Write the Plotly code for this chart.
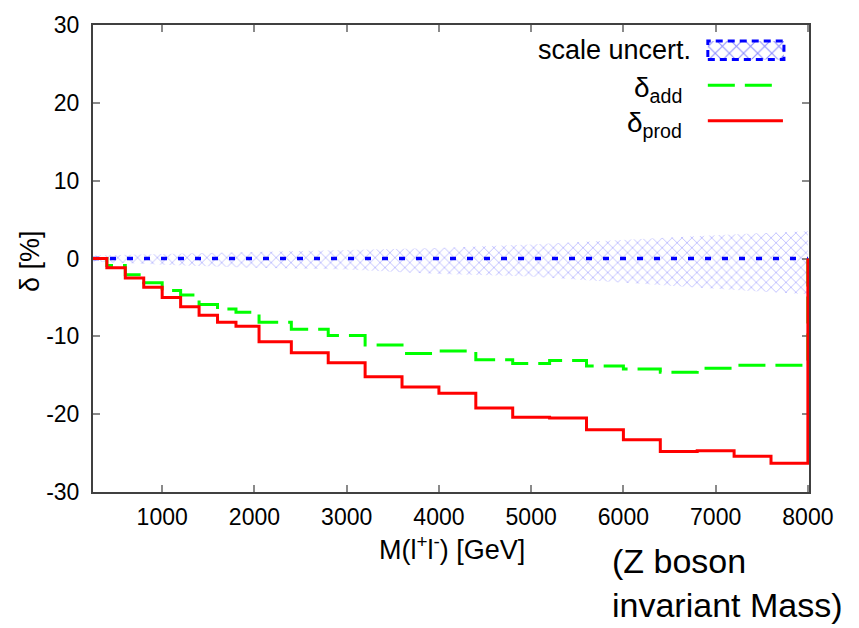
import plotly.graph_objects as go

# ---------------- data ----------------
bin_edges = [250, 400, 600, 800, 1000, 1200, 1400, 1600, 1800, 2050, 2400, 2800,
             3200, 3600, 4000, 4400, 4800, 5200, 5600, 6000, 6400, 6800, 7200, 7600, 8000]
delta_prod = [0.0, -1.2, -2.5, -3.7, -5.0, -6.2, -7.3, -8.2, -8.7, -10.7, -12.1, -13.4,
              -15.2, -16.5, -17.3, -19.2, -20.4, -20.5, -22.0, -23.3, -24.8, -24.7, -25.4, -26.3]
delta_add = [0.0, -0.9, -2.1, -3.1, -4.1, -4.7, -5.9, -6.5, -6.9, -8.2, -9.1, -9.9,
             -11.1, -12.2, -11.9, -13.0, -13.5, -13.1, -13.8, -14.2, -14.6, -14.1, -13.7, -13.7]

band_mass = [250, 1000, 2000, 3000, 4000, 5000, 6000, 7000, 8000]
band_upper = [0.4, 0.6, 0.85, 1.05, 1.35, 1.8, 2.4, 3.0, 3.5]
band_lower = [-0.4, -0.8, -1.2, -1.4, -2.0, -2.3, -3.1, -3.9, -4.6]

central_mass = [250, 8000]
central_val = [0, 0]

x_ticks = [1000, 2000, 3000, 4000, 5000, 6000, 7000, 8000]
y_ticks = [-30, -20, -10, 0, 10, 20, 30]
y_tick_text = ["-30", "-20", "-10", "0", "10", "20", "30"]

FONT = "Liberation Sans, Arial, sans-serif"


def histeps(edges, vals):
    xs = [edges[0]] + list(edges[:-1]) + [edges[-1], edges[-1]]
    ys = [0.0] + list(vals) + [vals[-1], 0.0]
    return xs, ys


fig = go.Figure()

# scale uncertainty band (hatched)
fig.add_trace(go.Scatter(
    x=band_mass + band_mass[::-1],
    y=band_upper + band_lower[::-1],
    fill="toself", mode="lines", line=dict(width=0, color="rgba(0,0,255,0)"),
    fillcolor="rgba(255,255,255,0)",
    fillpattern=dict(shape="x", fgcolor="rgba(40,40,255,0.75)", bgcolor="rgba(255,255,255,0)",
                     size=7, solidity=0.2),
    showlegend=False, hoverinfo="skip"))

# central line
fig.add_trace(go.Scatter(x=central_mass, y=central_val, mode="lines",
                         line=dict(color="#0000ff", width=3.5, dash="6px,11px"),
                         showlegend=False))

gx, gy = histeps(bin_edges, delta_add)
fig.add_trace(go.Scatter(x=gx, y=gy, mode="lines", line_shape="hv",
                         line=dict(color="#00ff00", width=3, dash="27px,10px"),
                         showlegend=False))

rx, ry = histeps(bin_edges, delta_prod)
fig.add_trace(go.Scatter(x=rx, y=ry, mode="lines", line_shape="hv",
                         line=dict(color="#ff0000", width=3),
                         showlegend=False))

# legend sample for the hatched band (on an overlay axis in plot-fraction units)
fig.add_trace(go.Scatter(
    x=[0.8587, 0.965, 0.965, 0.8587, 0.8587],
    y=[0.926, 0.926, 0.966, 0.966, 0.926],
    xaxis="x2", yaxis="y2",
    fill="toself", mode="lines",
    line=dict(color="#0000ff", width=3, dash="7px,5px"),
    fillcolor="rgba(255,255,255,0)",
    fillpattern=dict(shape="x", fgcolor="rgba(0,0,255,0.9)", bgcolor="rgba(255,255,255,0)",
                     size=10, solidity=0.2),
    showlegend=False, hoverinfo="skip"))

axis_common = dict(showline=True, linecolor="#404040", linewidth=2, mirror="ticks",
                   ticks="inside", ticklen=7, tickcolor="#8a8a8a", tickwidth=1.5,
                   showgrid=False, zeroline=False, layer="below traces",
                   tickfont=dict(family=FONT, size=23, color="black"))

fig.update_layout(
    width=859, height=628,
    margin=dict(l=93, r=50, t=19, b=136),
    paper_bgcolor="white", plot_bgcolor="white",
    font=dict(family=FONT, color="black"),
    showlegend=False,
    xaxis=dict(range=[250, 8012], tickvals=x_ticks, ticklabelstandoff=3, **axis_common),
    yaxis=dict(range=[-30, 30], tickvals=y_ticks, ticktext=y_tick_text,
               ticklabelstandoff=7, **axis_common),
    xaxis2=dict(overlaying="x", range=[0, 1], visible=False),
    yaxis2=dict(overlaying="y", range=[0, 1], visible=False),
)

# legend lines & texts
fig.add_shape(type="line", xref="paper", yref="paper", x0=0.8587, x1=0.9566, y0=0.871, y1=0.871,
              line=dict(color="#00ff00", width=3, dash="27px,10px"))
fig.add_shape(type="line", xref="paper", yref="paper", x0=0.8587, x1=0.9636, y0=0.795, y1=0.795,
              line=dict(color="#ff0000", width=3))

fig.add_annotation(text="scale uncert.", xref="paper", yref="paper", x=0.8378, y=0.947,
                   xanchor="right", yanchor="middle", showarrow=False,
                   font=dict(family=FONT, size=27, color="black"))
fig.add_annotation(text="δ<sub>add</sub>", xref="paper", yref="paper", x=0.8252, y=0.862,
                   xanchor="right", yanchor="middle", showarrow=False,
                   font=dict(family=FONT, size=28, color="black"))
fig.add_annotation(text="δ<sub>prod</sub>", xref="paper", yref="paper", x=0.8252, y=0.787,
                   xanchor="right", yanchor="middle", showarrow=False,
                   font=dict(family=FONT, size=28, color="black"))

# axis titles
fig.add_annotation(text="M(l<sup>+</sup>l<sup>-</sup>) [GeV]", xref="paper", yref="paper",
                   x=0.5007, y=-0.1205, xanchor="center", yanchor="middle", showarrow=False,
                   font=dict(family=FONT, size=27, color="black"))
fig.add_annotation(text="δ [%]", xref="paper", yref="paper", x=-0.088, y=0.4947,
                   xanchor="center", yanchor="middle", textangle=-90, showarrow=False,
                   font=dict(family=FONT, size=27, color="black"))

# side note
fig.add_annotation(text="(Z boson<br>invariant Mass)", xref="paper", yref="paper",
                   x=(610 - 93) / 716, y=(492 - 584) / 473, xanchor="left", yanchor="middle",
                   align="left", showarrow=False,
                   font=dict(family=FONT, size=34, color="black"))

fig.write_html("out.html")
